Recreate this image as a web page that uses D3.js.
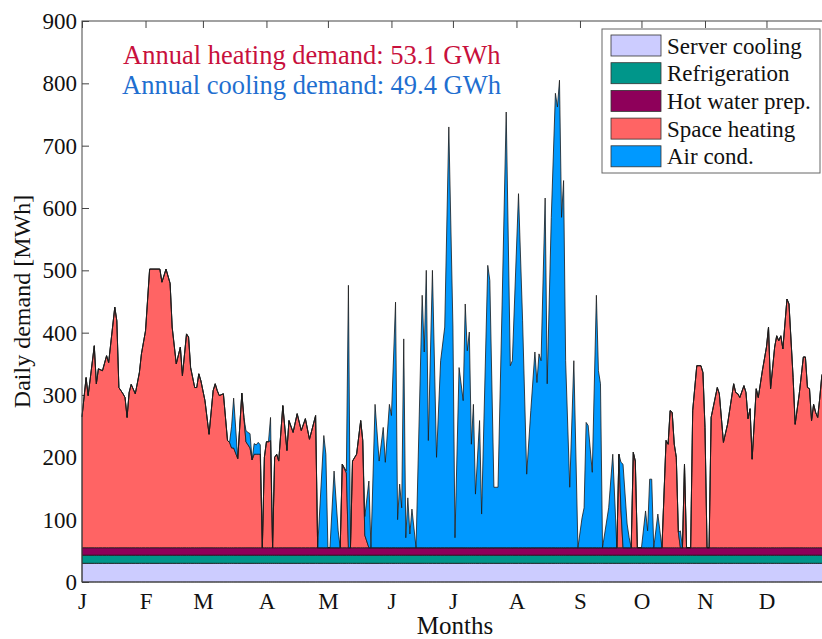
<!DOCTYPE html>
<html>
<head>
<meta charset="utf-8">
<script src="https://cdn.jsdelivr.net/npm/d3@7"></script>
<style>
  body { margin: 0; background: #fff; }
  text { font-family: "Liberation Serif", "Times New Roman", serif; }
</style>
</head>
<body>
<div id="chart"></div>
<script>
// Month ticks (day of year where each month starts)
const months = ["J", "F", "M", "A", "M", "J", "J", "A", "S", "O", "N", "D"];
const monthStart = [0, 31, 59, 90, 120, 151, 181, 212, 243, 273, 304, 334];
const yTicks = [0, 100, 200, 300, 400, 500, 600, 700, 800, 900];

// Constant base loads [MWh/day]
const serverCooling = 30;
const refrigeration = 13;
const hotWater = 12;

// Daily demand [MWh]
const days = [0, 2, 3, 6, 7, 8, 10, 12, 13, 16, 17, 18, 20, 21, 22, 23, 24, 26, 28, 29,
  31, 33, 38, 39, 41, 43, 44, 46, 48, 49, 51, 52, 53, 55, 56, 57, 58, 60, 62, 64,
  65, 66, 67, 69, 71, 72, 73, 74, 76, 78, 79, 80, 81, 82, 83, 84, 85, 86, 87, 88,
  89, 90, 91, 92, 93, 94, 95, 96, 98, 100, 101, 103, 105, 107, 109, 111, 114, 115, 118, 119,
  120, 121, 123, 125, 126, 127, 129, 130, 131, 132, 134, 136, 137, 138, 140, 141, 143, 145, 147, 148,
  150, 151, 153, 154, 155, 156, 157, 158, 159, 160, 161, 163, 166, 167, 168, 169, 171, 173, 175, 177,
  179, 181, 182, 184, 186, 187, 188, 189, 190, 191, 192, 194, 195, 198, 199, 201, 203, 205, 207, 209,
  210, 213, 215, 217, 219, 221, 222, 223, 224, 226, 227, 229, 231, 232, 233, 234, 235, 236, 238, 240,
  242, 244, 245, 246, 247, 249, 251, 252, 253, 254, 257, 259, 261, 262, 263, 264, 266, 267, 268, 269,
  270, 271, 273, 275, 276, 277, 278, 279, 281, 282, 283, 285, 286, 287, 288, 289, 290, 291, 292, 293,
  294, 295, 297, 298, 300, 302, 303, 304, 305, 306, 307, 310, 311, 313, 315, 318, 319, 320, 321, 323,
  324, 325, 326, 327, 329, 330, 332, 334, 335, 336, 338, 339, 340, 341, 342, 344, 345, 347, 348, 350,
  352, 353, 354, 355, 356, 357, 358, 359, 360, 361, 362, 364];

const heating = [210, 273, 244, 324, 263, 287, 284, 308, 297, 386, 364, 257, 247, 241, 209, 249, 262, 247, 281, 311,
  348, 447, 447, 426, 447, 424, 354, 295, 322, 276, 343, 338, 289, 257, 257, 279, 268, 236, 182, 252,
  263, 252, 244, 247, 172, 169, 160, 160, 143, 248, 209, 170, 165, 160, 141, 150, 150, 150, 150, 0,
  145, 170, 170, 172, 0, 145, 150, 139, 228, 156, 204, 185, 215, 188, 207, 174, 212, 0, 0, 0,
  0, 0, 0, 0, 0, 134, 120, 0, 0, 139, 150, 204, 172, 20, 0, 0, 0, 0, 0, 0,
  0, 0, 0, 0, 0, 0, 0, 0, 0, 0, 0, 0, 0, 0, 0, 0, 0, 0, 0, 0,
  0, 0, 0, 0, 0, 0, 0, 0, 0, 0, 0, 0, 0, 0, 0, 0, 0, 0, 0, 0,
  0, 0, 0, 0, 0, 0, 0, 0, 0, 0, 0, 0, 0, 0, 0, 0, 0, 0, 0, 0,
  0, 0, 0, 0, 0, 0, 0, 0, 0, 0, 0, 0, 0, 150, 60, 0, 0, 0, 0, 153,
  139, 0, 0, 0, 0, 0, 0, 0, 0, 0, 0, 172, 166, 220, 217, 166, 145, 25, 0, 0,
  134, 0, 0, 220, 292, 292, 281, 193, 0, 0, 209, 257, 247, 169, 198, 263, 249, 247, 241, 260,
  249, 207, 223, 142, 255, 241, 284, 322, 354, 255, 322, 340, 332, 340, 319, 399, 391, 273, 198, 247,
  306, 306, 257, 255, 204, 230, 217, 209, 240, 276, 285, 270];

const cooling = [0, 0, 0, 0, 0, 0, 0, 0, 0, 0, 0, 0, 0, 0, 0, 0, 0, 0, 0, 0,
  0, 0, 0, 0, 0, 0, 0, 0, 0, 0, 0, 0, 0, 0, 0, 0, 0, 0, 0, 0,
  0, 0, 0, 0, 0, 0, 35, 80, 0, 0, 0, 18, 20, 23, 0, 17, 15, 19, 15, 0,
  0, 0, 0, 37, 0, 0, 0, 0, 0, 0, 0, 0, 0, 0, 0, 0, 0, 0, 180, 150,
  0, 0, 123, 27, 0, 0, 3, 421, 0, 0, 0, 0, 0, 30, 107, 0, 230, 139, 193, 137,
  230, 212, 394, 45, 102, 64, 335, 16, 80, 22, 62, 0, 405, 314, 445, 172, 445, 145, 300, 354,
  675, 354, 16, 289, 236, 391, 316, 346, 166, 230, 86, 204, 54, 453, 429, 97, 97, 391, 699, 292,
  300, 568, 364, 118, 220, 314, 265, 311, 300, 561, 263, 530, 729, 707, 750, 530, 589, 300, 97, 300,
  0, 48, 64, 201, 196, 121, 405, 284, 263, 0, 64, 150, 0, 0, 77, 134, 38, 16, 0, 0,
  0, 0, 0, 59, 27, 110, 110, 0, 54, 27, 0, 0, 0, 0, 0, 0, 0, 0, 27, 0,
  0, 0, 0, 0, 0, 0, 0, 0, 0, 0, 0, 0, 0, 0, 0, 0, 0, 0, 0, 0,
  0, 0, 0, 0, 0, 0, 0, 0, 0, 0, 0, 0, 0, 0, 0, 0, 0, 0, 0, 0,
  0, 0, 0, 0, 0, 0, 0, 0, 0, 0, 0, 0];

const seriesKeys = ["server", "refrig", "hotwater", "heating", "cooling"];
const seriesNames = ["Server cooling", "Refrigeration", "Hot water prep.", "Space heating", "Air cond."];
const seriesColors = ["#ccccff", "#00968a", "#8e005a", "#ff6464", "#0099ff"];

// Chart geometry (the right side of the axes box falls just outside the window)
const margin = {top: 21, right: -8, bottom: 57, left: 82},
    fullW = 822, fullH = 639,
    width = fullW - margin.left - margin.right,
    height = fullH - margin.top - margin.bottom;

const svg = d3.select("#chart")
  .append("svg")
    .attr("width", fullW)
    .attr("height", fullH)
  .append("g")
    .attr("transform", `translate(${margin.left},${margin.top})`);

const x = d3.scaleLinear().domain([0, 365]).range([0, width]);
const y = d3.scaleLinear().domain([0, 900]).range([height, 0]);

// Build the stack table
const table = days.map((d, i) => ({
  day: d,
  server: serverCooling,
  refrig: refrigeration,
  hotwater: hotWater,
  heating: heating[i],
  cooling: cooling[i]
}));
const stacked = d3.stack().keys(seriesKeys)(table);

// Axes (ticks point inward, drawn below the areas)
function styleAxis(g) {
  g.selectAll(".domain").remove();
  g.selectAll(".tick line").attr("stroke", "#444");
  g.selectAll("text").attr("font-size", 23).attr("fill", "#111")
    .attr("font-family", "Liberation Serif, Times New Roman, serif");
}

svg.append("g")
    .call(d3.axisLeft(y).tickValues(yTicks).tickSizeInner(-7).tickSizeOuter(0).tickPadding(5))
    .call(styleAxis);

svg.append("g")
    .attr("transform", `translate(${width},0)`)
    .call(d3.axisRight(y).tickValues(yTicks).tickSizeInner(-7).tickSizeOuter(0).tickFormat(""))
    .call(styleAxis);

svg.append("g")
    .attr("transform", `translate(0,${height})`)
    .call(d3.axisBottom(x).tickValues(monthStart).tickSizeInner(-7).tickSizeOuter(0).tickPadding(11)
      .tickFormat((d, i) => months[i]))
    .call(styleAxis);

svg.append("g")
    .call(d3.axisTop(x).tickValues(monthStart).tickSizeInner(-7).tickSizeOuter(0).tickFormat(""))
    .call(styleAxis);

// Stacked areas
const area = d3.area()
    .x(d => x(d.data.day))
    .y0(d => y(d[0]))
    .y1(d => y(d[1]));

svg.selectAll(".layer")
  .data(stacked)
  .enter().append("path")
    .attr("class", "layer")
    .attr("d", area)
    .attr("fill", (d, i) => seriesColors[i])
    .attr("stroke", "#1a1a1a")
    .attr("stroke-width", 0.8)
    .attr("stroke-linejoin", "round");

// Axes box
svg.append("rect")
    .attr("width", width)
    .attr("height", height)
    .attr("fill", "none")
    .attr("stroke", "#444")
    .attr("stroke-width", 1);

// Axis labels
svg.append("text")
    .attr("x", x(182))
    .attr("y", height + 52)
    .attr("text-anchor", "middle")
    .attr("font-size", 25)
    .attr("fill", "#111")
    .text("Months");

svg.append("text")
    .attr("transform", `translate(${-margin.left + 30},${y(450)}) rotate(-90)`)
    .attr("text-anchor", "middle")
    .attr("font-size", 24)
    .attr("fill", "#111")
    .text("Daily demand [MWh]");

// Annual totals
svg.append("text")
    .attr("x", 41)
    .attr("y", 43)
    .attr("font-size", 26.5)
    .attr("fill", "#c8103c")
    .text("Annual heating demand: 53.1 GWh");

svg.append("text")
    .attr("x", 40)
    .attr("y", 73)
    .attr("font-size", 26.5)
    .attr("fill", "#1f6fd0")
    .text("Annual cooling demand: 49.4 GWh");

// Legend
const legend = svg.append("g").attr("transform", "translate(520,8)");
legend.append("rect")
    .attr("width", 218)
    .attr("height", 144)
    .attr("fill", "#fff")
    .attr("stroke", "#666");

seriesNames.forEach((name, i) => {
  legend.append("rect")
      .attr("x", 9)
      .attr("y", 6 + i * 27.7)
      .attr("width", 50)
      .attr("height", 21)
      .attr("fill", seriesColors[i])
      .attr("stroke", "#333")
      .attr("stroke-width", 0.8);
  legend.append("text")
      .attr("x", 65)
      .attr("y", 16.5 + i * 27.7)
      .attr("dy", "0.35em")
      .attr("font-size", 23)
      .attr("fill", "#111")
      .text(name);
});
</script>
</body>
</html>
